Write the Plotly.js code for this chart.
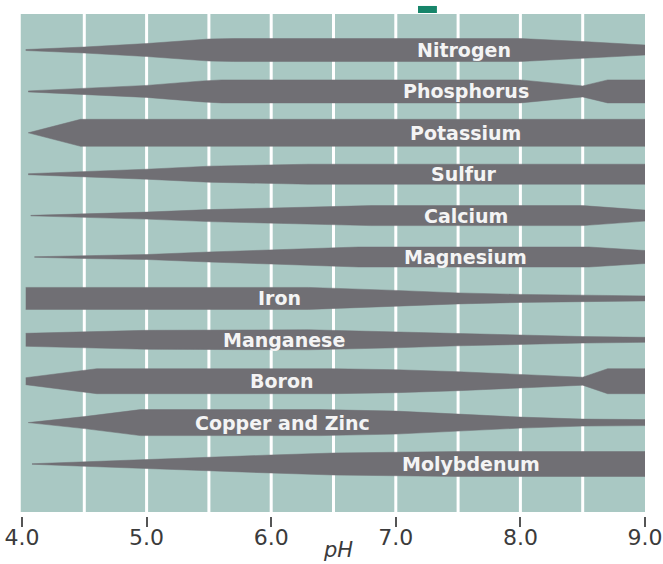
<!DOCTYPE html>
<html>
<head>
<meta charset="utf-8">
<script src="https://cdn.plot.ly/plotly-3.0.1.min.js"></script>
<style>html,body{margin:0;padding:0;background:#fff;}#chart{width:663px;height:564px;}</style>
</head>
<body>
<div id="chart"></div>
<script>
// Nutrient names (top to bottom)
const nutrients = ["Nitrogen","Phosphorus","Potassium","Sulfur","Calcium","Magnesium","Iron","Manganese","Boron","Copper and Zinc","Molybdenum"];
// pH position of each label
const labelPH = [7.55,7.56,7.56,7.55,7.56,7.56,6.07,6.1,6.09,6.09,7.6];

// Band thickness (relative availability) at pH break points, per nutrient
const nitrogenPH   = [4.03,4.5,5.0,5.5,5.7,8.0,8.5,9.0];
const nitrogenW    = [1,6,13,22,23,23,17,10];
const phosphorusPH = [4.05,4.5,5.0,5.45,5.6,8.0,8.5,8.7,9.0];
const phosphorusW  = [1,6,12,21,23,23,11,23,23];
const potassiumPH  = [4.05,4.47,9.0];
const potassiumW   = [0,27,27];
const sulfurPH     = [4.05,4.5,5.0,5.5,6.0,6.3,9.0];
const sulfurW      = [1,5,10,16,19,20,20];
const calciumPH    = [4.07,4.5,5.0,5.5,6.0,6.5,6.8,8.5,9.0];
const calciumW     = [0.5,3.5,7,12,15,18,20,20,11];
const magnesiumPH  = [4.1,4.5,5.0,5.5,6.0,6.5,6.7,8.55,9.0];
const magnesiumW   = [0.5,3,5,10,14,18,20,20,13];
const ironPH       = [4.03,6.3,7.0,7.5,8.0,8.5,9.0];
const ironW        = [22,22,16,11,8,6,5];
const manganesePH  = [4.03,5.0,6.3,7.0,7.5,8.0,8.5,9.0];
const manganeseW   = [13,19,20,16,12,9,6.5,5];
const boronPH      = [4.03,4.6,6.5,7.0,7.5,8.0,8.5,8.7,9.0];
const boronW       = [7,25,25,23,19,14,8,25,25];
const copperZincPH = [4.05,4.5,4.95,6.4,7.0,7.5,8.0,8.5,9.0];
const copperZincW  = [0,12,26,26,23,17,11,7,6];
const molybdenumPH = [4.08,4.5,5.0,5.5,6.0,6.5,7.0,7.5,9.0];
const molybdenumW  = [0.5,4.5,8,13,18,22,24,25,25];

const bandPH = [nitrogenPH,phosphorusPH,potassiumPH,sulfurPH,calciumPH,magnesiumPH,ironPH,manganesePH,boronPH,copperZincPH,molybdenumPH];
const bandW  = [nitrogenW,phosphorusW,potassiumW,sulfurW,calciumW,magnesiumW,ironW,manganeseW,boronW,copperZincW,molybdenumW];

// Axis ticks and grid
const tickPH = [4,5,6,7,8,9];
const gridPH = [4.5,5.0,5.5,6.0,6.5,7.0,7.5,8.0,8.5];
const xTitle = 'pH';

const ROW = 41.4; // thickness units per row
const bandColor = '#706f74';
const bgColor = '#a9c8c3';

const traces = nutrients.map((name, i) => {
  const xs = bandPH[i], ws = bandW[i];
  const top = ws.map(w => i - w / ROW / 2);
  const bot = ws.map(w => i + w / ROW / 2);
  return {
    type: 'scatter', mode: 'lines', name: name,
    x: xs.concat(xs.slice().reverse()),
    y: top.concat(bot.slice().reverse()),
    fill: 'toself', fillcolor: bandColor,
    line: {width: 0.5, color: bandColor},
    hoverinfo: 'name', showlegend: false
  };
});

const annotations = nutrients.map((name, i) => ({
  x: labelPH[i], y: i, xref: 'x', yref: 'y', text: name, showarrow: false,
  font: {family: 'DejaVu Sans', size: 19, color: '#f4f4f4', weight: 700},
  xanchor: 'center', yanchor: 'middle'
})).concat([{
  x: 0.508, y: -0.068, xref: 'paper', yref: 'paper', text: xTitle, showarrow: false,
  font: {family: 'DejaVu Sans', size: 21, color: '#3b3b3b', style: 'italic'},
  xanchor: 'center', yanchor: 'middle'
}]);

const plotH = 502;
const shapes = [
  {type: 'rect', xref: 'paper', yref: 'paper', x0: -0.002, x1: 1, y0: 4 / plotH, y1: 1,
   fillcolor: bgColor, line: {width: 0}, layer: 'below'}
].concat(gridPH.map(p => ({
  type: 'line', xref: 'x', yref: 'paper', x0: p, x1: p, y0: 4 / plotH, y1: 1,
  line: {color: '#ffffff', width: 3}, layer: 'below'
}))).concat([
  {type: 'rect', xref: 'paper', yref: 'paper', x0: 0.6356, x1: 0.666, y0: 1.002, y1: 1.016,
   fillcolor: '#17856a', line: {width: 0}, layer: 'above'}
]);

const layout = {
  width: 663, height: 564,
  margin: {l: 22, r: 18, t: 14, b: 48},
  paper_bgcolor: '#ffffff', plot_bgcolor: '#ffffff',
  showlegend: false,
  xaxis: {
    range: [4, 9], tickvals: tickPH, ticktext: tickPH.map(v => v.toFixed(1)),
    ticks: 'outside', ticklen: 10, tickwidth: 2, tickcolor: '#555555',
    ticklabelstandoff: -8,
    showgrid: false, zeroline: false, showline: false, fixedrange: true,
    tickfont: {family: 'DejaVu Sans', size: 22, color: '#3b3b3b'}
  },
  yaxis: {
    range: [11.256, -0.87], showticklabels: false, ticks: '', showgrid: false,
    zeroline: false, showline: false, fixedrange: true
  },
  shapes: shapes,
  annotations: annotations
};

Plotly.newPlot('chart', traces, layout, {staticPlot: true, displayModeBar: false});
</script>
</body>
</html>
